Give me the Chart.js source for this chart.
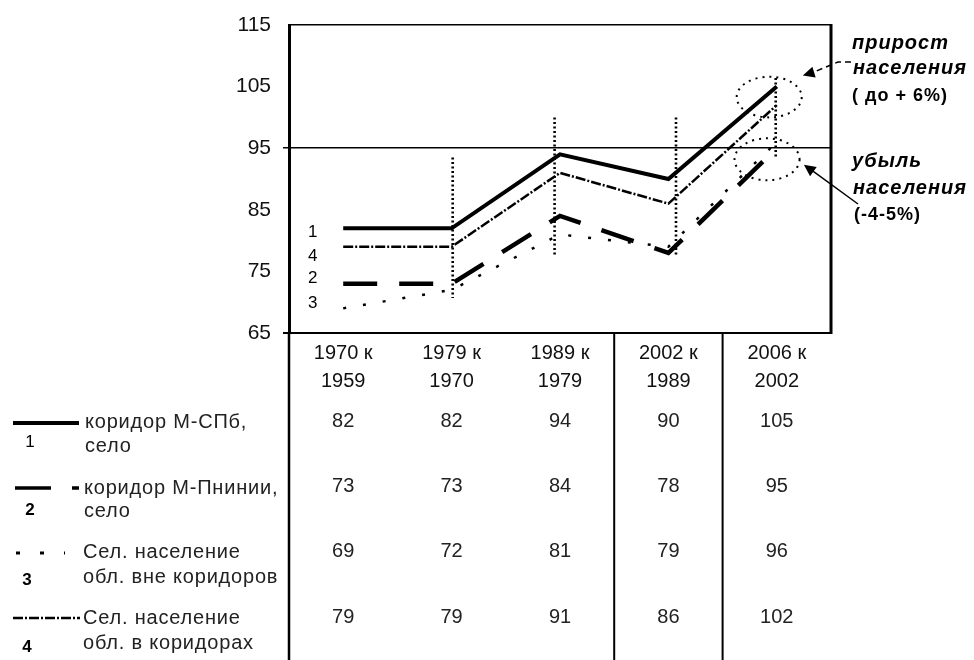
<!DOCTYPE html>
<html><head><meta charset="utf-8">
<script src="https://cdn.jsdelivr.net/npm/chart.js@4/dist/chart.umd.min.js"></script>
<style>html,body{margin:0;padding:0;background:#fff}#wrap{position:relative;width:974px;height:660px}</style>
</head><body><div id="wrap"><canvas id="c" width="974" height="660"></canvas></div>
<script>
// ---- data ----
const categories = [['1970 к','1959'],['1979 к','1970'],['1989 к','1979'],['2002 к','1989'],['2006 к','2002']];
const seriesNames = [['коридор М-СПб,','село'],['коридор М-Пнинии,','село'],['Сел. население','обл. вне коридоров'],['Сел. население','обл. в коридорах']];
const seriesNumbers = ['1','2','3','4'];
const corridorSPb = [82,82,94,90,105];
const corridorSecond = [73,73,84,78,95];
const ruralOutside = [69,72,81,79,96];
const ruralInside = [79,79,91,86,102];
const yTicks = [65,75,85,95,105,115];
const baseline = 95;
// dotted marker lines: category position, top value, bottom value
const markerX = [1.01, 1.95, 3.07, 3.99];
const markerTop = [93.5, 100, 100, 106.4];
const markerBottom = [70.7, 77.7, 77.7, 93.6];
// in-plot series number labels: category position, value
const numLabelX = [-0.28, -0.28, -0.28, -0.28];
const numLabelY = [81.4, 73.9, 69.9, 77.5];
// annotation ellipses: centre position, centre value, x radius (categories), y radius (values)
const ellipseX = [3.93, 3.91];
const ellipseY = [103.3, 93.2];
const ellipseRX = [0.30, 0.30];
const ellipseRY = [3.3, 3.4];
const noteGrowth = ['прирост','населения','( до + 6%)'];
const noteLoss = ['убыль','населения','(-4-5%)'];

const FONT = "'Liberation Sans', Arial, sans-serif";
const seriesData = [corridorSPb, corridorSecond, ruralOutside, ruralInside];
const seriesStyle = [
  {w:4, dash:[]},
  {w:4.5, dash:[34,22]},
  {w:2.5, dash:[3,17]},
  {w:2.5, dash:[10,2,2,2]}
];

const datasets = seriesData.map((d,i)=>({
  data:d, borderColor:'#000', borderWidth:seriesStyle[i].w, borderDash:seriesStyle[i].dash,
  pointRadius:0, tension:0, fill:false
}));
markerX.forEach((mx,i)=>{
  datasets.push({xAxisID:'xl', data:[{x:mx,y:markerTop[i]},{x:mx,y:markerBottom[i]}],
    borderColor:'#000', borderWidth:2.6, borderDash:[2,2.5], pointRadius:0, fill:false});
});

function ln(c,x1,y1,x2,y2){c.beginPath();c.moveTo(x1,y1);c.lineTo(x2,y2);c.stroke();}
function arrowHead(c,fx,fy,tx,ty,size){
  const ang=Math.atan2(ty-fy,tx-fx);
  c.beginPath();c.moveTo(tx,ty);
  c.lineTo(tx-size*Math.cos(ang-0.45),ty-size*Math.sin(ang-0.45));
  c.lineTo(tx-size*Math.cos(ang+0.45),ty-size*Math.sin(ang+0.45));
  c.closePath();c.fill();
}

const extras = {
  id:'extras',
  afterDraw(chart){
    const c=chart.ctx, a=chart.chartArea, xs=chart.scales.x, xl=chart.scales.xl, ys=chart.scales.y;
    const H=chart.height;
    c.save();
    c.strokeStyle='#000'; c.fillStyle='#000'; c.setLineDash([]);
    // right border
    c.lineWidth=3; ln(c,a.right,a.top-1,a.right,a.bottom+1);
    // left extension
    c.lineWidth=2.5; ln(c,a.left,a.bottom,a.left,H);
    // column separators in table area
    c.lineWidth=2;
    [2.5,3.5].forEach(v=>{const x=xl.getPixelForValue(v); ln(c,x,a.bottom,x,H);});
    // in-plot series numbers
    c.font='17px '+FONT; c.textAlign='center'; c.textBaseline='middle';
    seriesNumbers.forEach((n,i)=>c.fillText(n, xl.getPixelForValue(numLabelX[i]), ys.getPixelForValue(numLabelY[i])));
    // ellipses
    c.lineWidth=2; c.setLineDash([2,5]);
    ellipseX.forEach((ex,i)=>{
      const cx=xl.getPixelForValue(ex), cy=ys.getPixelForValue(ellipseY[i]);
      const rx=xl.getPixelForValue(ex+ellipseRX[i])-cx, ry=cy-ys.getPixelForValue(ellipseY[i]+ellipseRY[i]);
      c.beginPath(); c.ellipse(cx,cy,rx,ry,0,0,Math.PI*2); c.stroke();
    });
    // table values
    c.setLineDash([]);
    const rowY=[421,486,551,617];
    c.font='20px '+FONT; c.fillStyle='#222'; c.textAlign='center'; c.textBaseline='middle';
    seriesData.forEach((d,i)=>d.forEach((v,j)=>c.fillText(String(v), xs.getPixelForValue(j), rowY[i])));
    // legend
    c.fillStyle='#222'; c.textAlign='left';
    const textX=[85,84,83,83];
    const line1Y=[422,488,552,618], line2Y=[446,511,577,643];
    if ('letterSpacing' in c) c.letterSpacing='0.8px';
    seriesNames.forEach((nm,i)=>{
      c.fillText(nm[0], textX[i], line1Y[i]);
      c.fillText(nm[1], textX[i], line2Y[i]);
    });
    if ('letterSpacing' in c) c.letterSpacing='0px';
    c.fillStyle='#000'; c.textAlign='center';
    c.font='17px '+FONT;
    c.fillText('1',30,442); c.font='bold 17px '+FONT; c.fillText('2',30,510);
    c.fillText('3',27,580); c.fillText('4',27,647);
    // legend samples
    c.strokeStyle='#000';
    c.lineWidth=4; ln(c,13,423,79,423);
    c.lineWidth=3.5; ln(c,15,488,51,488); ln(c,72,488,79,488);
    c.lineWidth=3; c.setLineDash([4,20]); ln(c,16,553,65,553); c.setLineDash([]);
    c.lineWidth=2.5; c.setLineDash([10,2,2,2]); ln(c,13,618,80,618); c.setLineDash([]);
    // annotation text
    const nx=a.right+21;
    c.textAlign='left'; c.fillStyle='#000';
    c.font='italic bold 20px '+FONT;
    if ('letterSpacing' in c) c.letterSpacing='1px';
    c.fillText(noteGrowth[0],nx,43); c.fillText(noteGrowth[1],nx+1,68);
    c.fillText(noteLoss[0],nx,161); c.fillText(noteLoss[1],nx+1,188);
    c.font='bold 18px '+FONT;
    c.fillText(noteGrowth[2],nx,96); c.fillText(noteLoss[2],nx+2,215);
    if ('letterSpacing' in c) c.letterSpacing='0px';
    // arrows
    const t1x=xl.getPixelForValue(4.24), t1y=ys.getPixelForValue(106.8);
    c.lineWidth=1.5; c.setLineDash([6,4]);
    c.beginPath(); c.moveTo(nx-1,62); c.lineTo(nx-14,62); c.lineTo(t1x+10,t1y-3); c.stroke();
    c.setLineDash([]); arrowHead(c,t1x+20,t1y-6,t1x,t1y,13);
    const t2x=xl.getPixelForValue(4.25), t2y=ys.getPixelForValue(92.3);
    c.lineWidth=1.5; ln(c,nx+6,204,t2x+6,t2y+4);
    arrowHead(c,nx+6,204,t2x,t2y,13);
    c.restore();
  }
};

new Chart(document.getElementById('c'),{
  type:'line',
  data:{labels:categories, datasets},
  options:{
    responsive:false, animation:false, events:[],
    layout:{padding:{top:25,right:974-831,left:0,bottom:0}},
    plugins:{legend:{display:false},tooltip:{enabled:false}},
    scales:{
      x:{type:'category', offset:true,
        grid:{display:false}, border:{display:false},
        ticks:{color:'#111', font:{family:FONT,size:20,lineHeight:1.4}, padding:-2, maxRotation:0, autoSkip:false},
        afterFit(s){s.height=327;}
      },
      xl:{type:'linear', axis:'x', min:-0.5, max:4.5, display:false},
      y:{min:yTicks[0], max:yTicks[yTicks.length-1],
        afterBuildTicks(s){s.ticks=yTicks.map(v=>({value:v}));},
        ticks:{color:'#111', font:{family:FONT,size:21}, padding:12},
        grid:{
          color:c=>(c.tick&&(c.tick.value===baseline||c.tick.value===yTicks[0]||c.tick.value===yTicks[yTicks.length-1]))?'#000':'rgba(0,0,0,0)',
          lineWidth:c=>(c.tick&&c.tick.value===yTicks[0])?2:1.5,
          tickLength:6,
          tickColor:c=>(c.tick&&(c.tick.value===baseline||c.tick.value===yTicks[0]))?'#000':'rgba(0,0,0,0)'
        },
        border:{color:'#000', width:3},
        afterFit(s){s.width=289;}
      }
    }
  },
  plugins:[extras]
});
</script></body></html>
